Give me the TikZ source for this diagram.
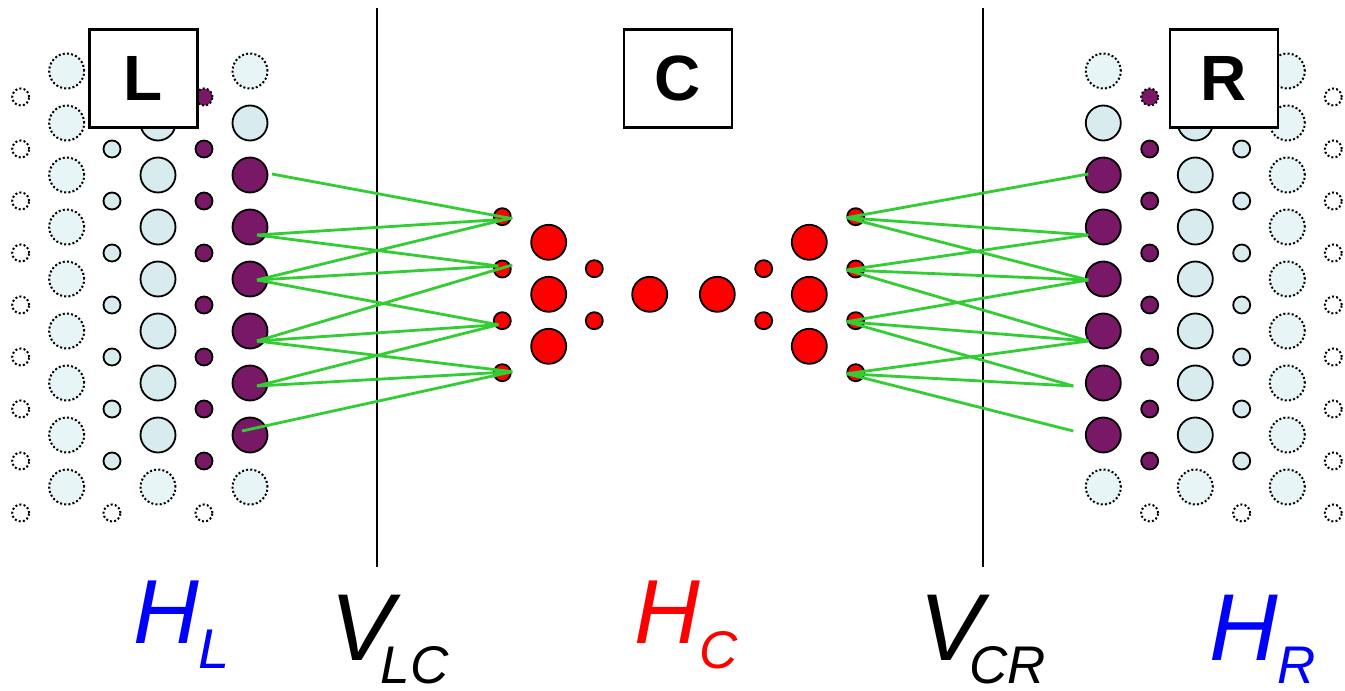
\documentclass[tikz,border=0pt]{standalone}
\usepackage{fontspec}
\setmainfont{Liberation Sans}
\usetikzlibrary{calc}
\definecolor{purp}{RGB}{122,24,104}
\definecolor{lcy}{RGB}{216,235,238}
\definecolor{lcyd}{RGB}{232,245,246}
\definecolor{grn}{RGB}{50,205,50}
\newcommand\gline[4]{\draw[gl] ($(#1)+(#2)$) -- ($(#3)+(#4)$);}
\begin{document}
\begin{tikzpicture}[x=1pt,y=-1pt,
  big/.style={circle,draw,line width=1.8pt,minimum size=35pt,inner sep=0pt},
  small/.style={circle,draw,line width=1.8pt,minimum size=17pt,inner sep=0pt},
  dotb/.style={line width=2pt,dash pattern=on 2pt off 2.2pt},
  solidlc/.style={fill=lcy},
  dotlc/.style={dotb,fill=lcyd},
  dotw/.style={dotb,fill=white},
  pur/.style={fill=purp},
  redc/.style={fill=red},
  gl/.style={draw=grn,line width=2.8pt},
  vline/.style={draw=black,line width=2pt},
  boxst/.style={draw,fill=white,line width=2.5pt,minimum width=108pt,minimum height=98pt,inner sep=0pt,font=\fontsize{64}{64}\selectfont\bfseries},
  lab/.style={inner sep=0pt,font=\itshape,anchor=base west}]
\useasboundingbox (0,0) rectangle (1345,691);
\fill[white] (0,0) rectangle (1345,691);

% side blocks
\foreach \s/\xa/\xb/\xc/\xd/\xe/\xf in {l/20.7/66.7/112/158/204/250, r/1333.3/1287.3/1241.7/1195.3/1149.7/1103.3}{
  \foreach \k/\yo/\ye in {1/97/71,2/149/123,3/201/175,4/253/227,5/305/279,6/357/331,7/409/383,8/461/435,9/513/487}{
    \node[small,dotw] (\s-a-\k) at (\xa,\yo) {};
    \node[big,dotlc] (\s-b-\k) at (\xb,\ye) {};
  }
  \foreach \k/\yo/\ye in {2/149/123,3/201/175,4/253/227,5/305/279,6/357/331,7/409/383,8/461/435}{
    \node[small,solidlc] (\s-c-\k) at (\xc,\yo) {};
    \node[big,solidlc] (\s-d-\k) at (\xd,\ye) {};
    \node[small,pur] (\s-e-\k) at (\xe,\yo) {};
  }
  \node[small,dotw] (\s-c-9) at (\xc,513) {};
  \node[big,dotlc] (\s-d-9) at (\xd,487) {};
  \node[small,dotb,fill=purp] (\s-e-1) at (\xe,97) {};
  \node[small,dotw] (\s-e-9) at (\xe,513) {};
  \node[big,dotlc] (\s-f-1) at (\xf,71) {};
  \node[big,solidlc] (\s-f-2) at (\xf,123) {};
  \foreach \k/\ye in {3/175,4/227,5/279,6/331,7/383,8/435}{
    \node[big,pur] (\s-f-\k) at (\xf,\ye) {};
  }
  \node[big,dotlc] (\s-f-9) at (\xf,487) {};
}

% central red circles
\foreach \k/\y in {1/216.7,2/269,3/320.7,4/372.7}{
  \node[small,redc] (a\k) at (502.3,\y) {};
  \node[small,redc] (h\k) at (855.7,\y) {};
}
\foreach \k/\y in {1/242.3,2/294.3,3/346.3}{
  \node[big,redc] (b\k) at (548.7,\y) {};
  \node[big,redc] (g\k) at (809.3,\y) {};
}
\foreach \k/\y in {1/268.7,2/320.7}{
  \node[small,redc] (c\k) at (594.3,\y) {};
  \node[small,redc] (f\k) at (763.7,\y) {};
}
\node[big,redc] (d) at (649.7,294.3) {};
\node[big,redc] (e) at (717.3,294.3) {};

% boxes
\node[boxst] (boxL) at (143.5,78.5) {L};
\node[boxst] (boxC) at (678,78.5) {C};
\node[boxst] (boxR) at (1224,78.5) {R};

% vertical lines
\coordinate (vlct) at (377,8);
\coordinate (vlcb) at (377,567);
\coordinate (vcrt) at (983,8);
\coordinate (vcrb) at (983,567);
\draw[vline] (vlct) -- (vlcb);
\draw[vline] (vcrt) -- (vcrb);

% green couplings, left
\gline{l-f-3}{22,-1}{a1}{10,2}
\gline{l-f-4}{7,8}{a1}{-4,3}
\gline{l-f-4}{7,8}{a2}{-4,-3}
\gline{l-f-5}{7,1}{a1}{10,1}
\gline{l-f-5}{7,1}{a2}{-4,-3}
\gline{l-f-5}{7,1}{a3}{-4,4}
\gline{l-f-6}{7,10}{a2}{10,-4}
\gline{l-f-6}{7,10}{a3}{-4,4}
\gline{l-f-6}{7,10}{a4}{10,-1}
\gline{l-f-7}{7,3}{a3}{-4,4}
\gline{l-f-7}{7,3}{a4}{10,-1}
\gline{l-f-8}{-8,-4}{a4}{10,-1}
% green couplings, right
\gline{h1}{-9,1}{r-f-3}{-15,-1}
\gline{h1}{-9,1}{r-f-4}{-15,8}
\gline{h1}{-9,1}{r-f-5}{-15,1}
\gline{h2}{-9,1}{r-f-4}{-15,8}
\gline{h2}{-9,1}{r-f-5}{-15,1}
\gline{h2}{-9,1}{r-f-6}{-15,10}
\gline{h3}{-9,1}{r-f-5}{-15,1}
\gline{h3}{-9,1}{r-f-6}{-15,10}
\gline{h3}{-9,1}{r-f-7}{-30,3}
\gline{h4}{-9,1}{r-f-6}{-15,10}
\gline{h4}{-9,1}{r-f-7}{-30,3}
\gline{h4}{-9,1}{r-f-8}{-30,-4}

% labels
\node[lab,text=blue] (HL) at (133,643) {\fontsize{91}{91}\selectfont H\raisebox{-25pt}[0pt][0pt]{\fontsize{56}{56}\selectfont L}};
\node[lab,text=black] (VLC) at (330,660) {\fontsize{95}{95}\selectfont V\kern-13pt\raisebox{-23pt}[0pt][0pt]{\fontsize{53}{53}\selectfont LC}};
\node[lab,text=red] (HC) at (634,643) {\fontsize{91}{91}\selectfont H\raisebox{-25pt}[0pt][0pt]{\fontsize{53}{53}\selectfont C}};
\node[lab,text=black] (VCR) at (919,660) {\fontsize{95}{95}\selectfont V\kern-13pt\raisebox{-23pt}[0pt][0pt]{\fontsize{53}{53}\selectfont CR}};
\node[lab,text=blue] (HR) at (1209,660) {\fontsize{95}{95}\selectfont H\raisebox{-23pt}[0pt][0pt]{\fontsize{53}{53}\selectfont R}};
\end{tikzpicture}
\end{document}
